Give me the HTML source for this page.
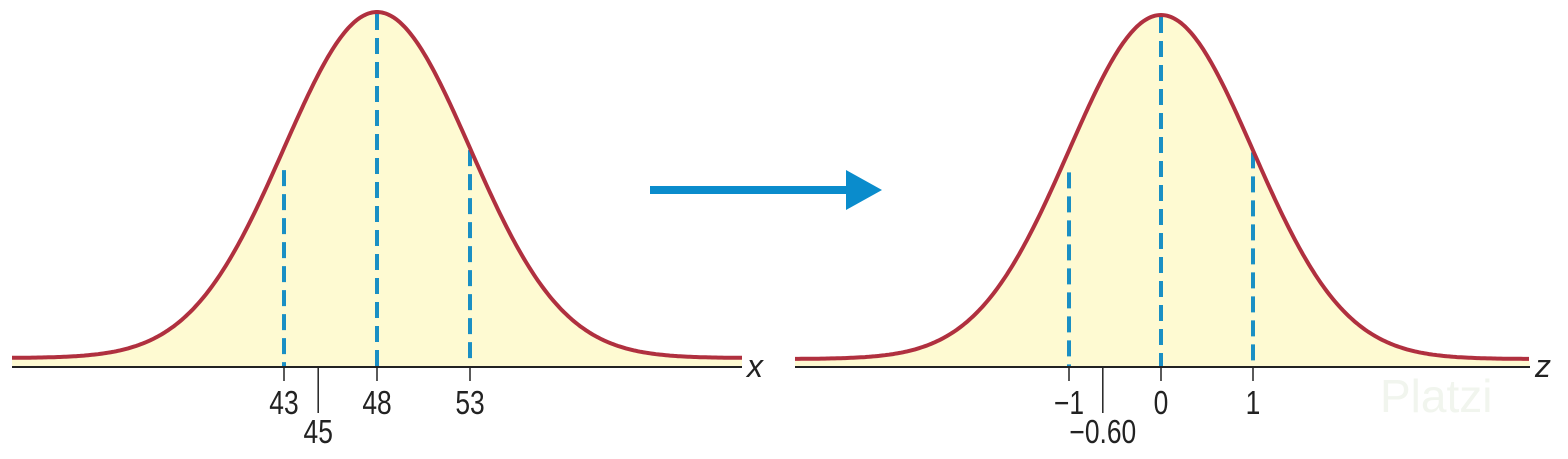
<!DOCTYPE html>
<html><head><meta charset="utf-8"><style>
html,body{margin:0;padding:0;background:#fff;width:1568px;height:459px;overflow:hidden}
svg text{font-family:"Liberation Sans",sans-serif}
</style></head><body>
<svg id="chart" width="1568" height="459" xmlns="http://www.w3.org/2000/svg">
<text x="1380" y="412" font-size="46" fill="#f1f5ee">Platzi</text>
<g id="left"></g>
<g id="right"></g>
<g>
<rect x="650" y="186" width="200" height="8" fill="#0a8ccc"/>
<polygon points="846,170 882,190 846,210" fill="#0a8ccc"/>
</g>
</svg>
<script>
const leftTicks = [43, 48, 53];
const leftMarker = [45];
const leftMean = 48, leftSd = 5;
const rightTicks = [-1, 0, 1];
const rightMarker = [-0.60];
const rightLabels = ["\u22121", "0", "1"];
const rightMarkerLabels = ["\u22120.60"];
const NS = "http://www.w3.org/2000/svg";
function mk(tag, attrs, parent){const e=document.createElementNS(NS,tag);for(const k in attrs)e.setAttribute(k,attrs[k]);parent.appendChild(e);return e;}
function panel(g, o){
  const sx = v => o.cx + (v - o.mean)/o.sd*o.pxSd;
  const h = v => o.base - o.amp*Math.exp(-0.5*Math.pow((v-o.mean)/o.sd,2));
  let d="", pts=[];
  for(let px=o.x0; px<=o.x1; px+=2){const v=o.mean+(px-o.cx)/o.pxSd*o.sd; pts.push([px,h(v)]);}
  d = pts.map((p,i)=>(i?"L":"M")+p[0].toFixed(1)+","+p[1].toFixed(1)).join("");
  const fill = mk("path",{d:d+`L${o.x1},${o.axis}L${o.x0},${o.axis}Z`,fill:"#fefad2"},g);
  
  
  o.ticks.forEach((t,i)=>{
    const x=sx(t);
    const dl=mk("line",{x1:x,x2:x,y1:h(t)+(t<o.mean?22:2),y2:o.axis,stroke:"#1a8fc4","stroke-width":4,"stroke-dasharray":"16 8"},g);
    
    
    mk("line",{x1:x,x2:x,y1:o.axis,y2:o.axis+14,stroke:"#222","stroke-width":1.5},g);
    const tx=mk("text",{x:x,y:o.axis+47,"font-size":33,"text-anchor":"middle",fill:"#222",transform:`translate(${x},0) scale(0.8,1) translate(${-x},0)`},g);
    tx.textContent=o.labels[i];
    
    
  });
  o.marker.forEach((t,i)=>{
    const x=sx(t)-3;
    mk("line",{x1:x,x2:x,y1:o.axis,y2:o.axis+46,stroke:"#222","stroke-width":1.5},g);
    const tx=mk("text",{x:x,y:o.axis+76,"font-size":33,"text-anchor":"middle",fill:"#222",transform:`translate(${x},0) scale(0.8,1) translate(${-x},0)`},g);
    tx.textContent=o.mlabels[i];
    
    
  });
  const c=mk("path",{d:d,fill:"none",stroke:"#b0303f","stroke-width":4},g);
  
  
  const ax=mk("line",{x1:o.x0,x2:o.x1,y1:o.axis,y2:o.axis,stroke:"#222","stroke-width":2},g);
  
  
  const lb=mk("text",{x:o.x1+5,y:o.axis+10,"font-size":32,"font-style":"italic",fill:"#222"},g);
  lb.textContent=o.name;
  
  
}
panel(document.getElementById("left"),{cx:377,mean:leftMean,sd:leftSd,pxSd:93,base:358,amp:346,axis:367,x0:12,x1:742,ticks:leftTicks,labels:leftTicks.map(String),marker:leftMarker,mlabels:leftMarker.map(String),name:"x"});
panel(document.getElementById("right"),{cx:1161,mean:0,sd:1,pxSd:92,base:359,amp:344,axis:367,x0:795,x1:1530,ticks:rightTicks,labels:rightLabels,marker:rightMarker,mlabels:rightMarkerLabels,name:"z"});
</script>
</body></html>
